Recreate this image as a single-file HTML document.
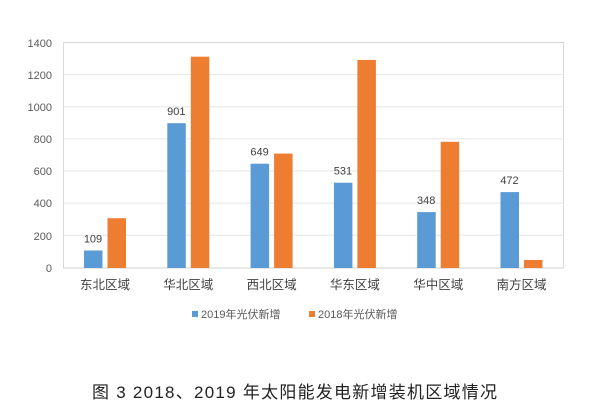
<!DOCTYPE html>
<html><head><meta charset="utf-8"><style>
body{margin:0;background:#fff}
svg text{font-family:"Liberation Sans","Noto Sans CJK SC",sans-serif}
</style></head><body>
<svg width="600" height="415" viewBox="0 0 600 415" xmlns="http://www.w3.org/2000/svg">
<rect x="0" y="0" width="600" height="415" fill="#fff"/>
<rect x="63.5" y="42.5" width="500" height="225.5" fill="none" stroke="#d9d9d9" stroke-width="1"/>
<g stroke="#e6e6e6" stroke-width="1">
<line x1="63" x2="563" y1="74.6" y2="74.6"/>
<line x1="63" x2="563" y1="106.7" y2="106.7"/>
<line x1="63" x2="563" y1="138.9" y2="138.9"/>
<line x1="63" x2="563" y1="171" y2="171"/>
<line x1="63" x2="563" y1="203.1" y2="203.1"/>
<line x1="63" x2="563" y1="235.3" y2="235.3"/>
</g>
<line x1="63" x2="563" y1="268" y2="268" stroke="#d0d0d0"/>
<g font-size="11" fill="#595959" text-anchor="end">
<text x="52" y="272">0</text><text x="52" y="240">200</text><text x="52" y="207">400</text>
<text x="52" y="175">600</text><text x="52" y="143">800</text><text x="52" y="111">1000</text>
<text x="52" y="79">1200</text><text x="52" y="47">1400</text>
</g>
<g fill="#5b9bd5">
<rect x="84" y="250.5" width="18.5" height="17.5"/>
<rect x="167.3" y="123.2" width="18.5" height="144.8"/>
<rect x="250.6" y="163.7" width="18.5" height="104.3"/>
<rect x="333.9" y="182.7" width="18.5" height="85.3"/>
<rect x="417.2" y="212.1" width="18.5" height="55.9"/>
<rect x="500.5" y="192.1" width="18.5" height="75.9"/>
</g>
<g fill="#ed7d31">
<rect x="107.5" y="218.2" width="18.5" height="49.8"/>
<rect x="190.8" y="56.7" width="18.5" height="211.3"/>
<rect x="274.1" y="153.6" width="18.5" height="114.4"/>
<rect x="357.4" y="59.9" width="18.5" height="208.1"/>
<rect x="440.7" y="141.8" width="18.5" height="126.2"/>
<rect x="524" y="260" width="18.5" height="8"/>
</g>
<g font-size="11" fill="#404040" text-anchor="middle">
<text x="93" y="242.5">109</text>
<text x="176.3" y="115.2">901</text>
<text x="259.6" y="155.7">649</text>
<text x="342.9" y="174.7">531</text>
<text x="426.2" y="204.1">348</text>
<text x="509.5" y="184.1">472</text>
</g>
<g font-size="12.5" fill="#404040" text-anchor="middle">
<text x="105" y="289">东北区域</text>
<text x="188.3" y="289">华北区域</text>
<text x="271.6" y="289">西北区域</text>
<text x="354.9" y="289">华东区域</text>
<text x="438.2" y="289">华中区域</text>
<text x="521.5" y="289">南方区域</text>
</g>
<rect x="192" y="311" width="6" height="6" fill="#5b9bd5"/>
<text x="201" y="318" font-size="11" fill="#595959">2019年光伏新增</text>
<rect x="309" y="311" width="6" height="6" fill="#ed7d31"/>
<text x="318" y="318" font-size="11" fill="#595959">2018年光伏新增</text>
<text x="92" y="398" font-size="17" fill="#222" textLength="405" lengthAdjust="spacing">图 3 2018、2019 年太阳能发电新增装机区域情况</text>
</svg>
</body></html>
